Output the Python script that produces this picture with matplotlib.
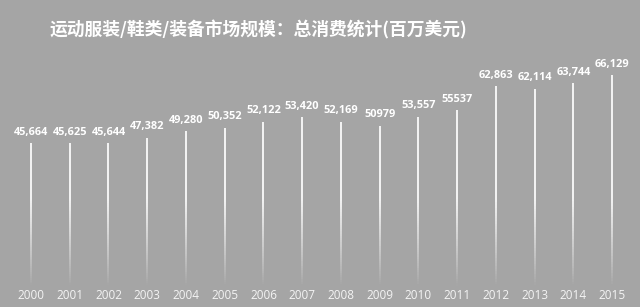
import numpy as np
import matplotlib.pyplot as plt
from matplotlib.collections import LineCollection
from matplotlib.transforms import blended_transform_factory

# 数据
years = ['2000', '2001', '2002', '2003', '2004', '2005', '2006', '2007',
         '2008', '2009', '2010', '2011', '2012', '2013', '2014', '2015']
values = [45664, 45625, 45644, 47382, 49280, 50352, 52122, 53420,
          52169, 50979, 53557, 55537, 62863, 62114, 63744, 66129]
labels = ['45,664', '45,625', '45,644', '47,382', '49,280', '50,352', '52,122', '53,420',
          '52,169', '50979', '53,557', '55537', '62,863', '62,114', '63,744', '66,129']
title = '运动服装/鞋类/装备市场规模：总消费统计(百万美元)'

bg = '#a5a5a5'
plt.rcParams['font.family'] = ['Open Sans', 'DejaVu Sans']

fig = plt.figure(figsize=(6.4, 3.07), dpi=100, facecolor=bg)
ax = fig.add_axes([0, 0, 1, 1], facecolor=bg)
ax.set_xlim(-0.8, 15.72)
ax.set_ylim(-3611, 88770)
ax.axis('off')

# 渐隐的细线柱
for i, v in enumerate(values):
    ys = np.linspace(0, v, 80)
    segs = [[(i, ys[k]), (i, ys[k + 1])] for k in range(len(ys) - 1)]
    mid = (ys[:-1] + ys[1:]) / 2
    a = np.clip((mid - 3000) / 26000, 0, 1) ** 0.9 * 0.95
    cols = [(1, 1, 1, aa) for aa in a]
    ax.add_collection(LineCollection(segs, colors=cols, linewidths=1.3, capstyle='butt'))
    ax.annotate(labels[i], (i, v), xytext=(0, 4), textcoords='offset points',
                ha='center', va='bottom', fontsize=7.9, fontweight='bold', color='white')

tr = blended_transform_factory(ax.transData, ax.transAxes)
for i, y in enumerate(years):
    ax.text(i, 0.036, y, transform=tr, ha='center', va='center',
            fontsize=8.5, color='#f4f4f4')

fig.text(258 / 640, 1 - 30 / 307, title, ha='center', va='center', fontsize=12.8,
         fontweight='bold', color='white', family=['Noto Sans CJK SC', 'DejaVu Sans'])

fig.savefig('out.png', dpi=100, facecolor=bg)
